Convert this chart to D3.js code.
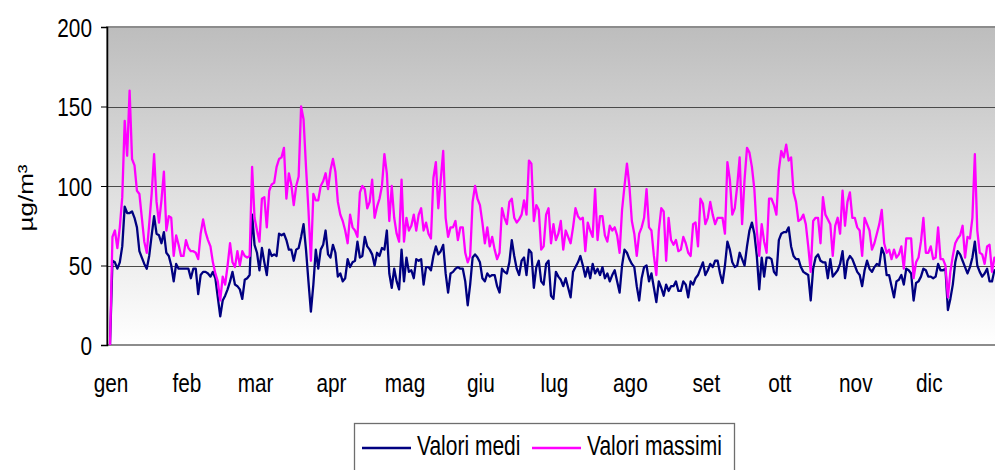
<!DOCTYPE html>
<html>
<head>
<meta charset="utf-8">
<script src="https://cdn.jsdelivr.net/npm/d3@7"></script>
<style>
  body { margin: 0; background: #fff; }
  text { font-family: "Liberation Sans", Arial, sans-serif; fill: #000; }
</style>
</head>
<body>
<script>
const width = 995;
const height = 470;

// mesi (etichette asse x) e giorno di inizio (indice del punto)
const months = ["gen", "feb", "mar", "apr", "mag", "giu", "lug", "ago", "set", "ott", "nov", "dic"];
const monthStart = [1, 32, 60, 91, 121, 152, 182, 213, 244, 274, 305, 335];

const yTicks = [0, 50, 100, 150, 200];

// Valori medi giornalieri (µg/m³)
const valoriMedi = [
  0, 53, 52, 48, 52, 62, 87, 83, 83, 84,
  80, 74, 59, 55, 51, 48, 56, 69, 81, 70,
  69, 64, 71, 58, 56, 50, 40, 51, 48, 48,
  48, 48, 48, 42, 48, 48, 32, 44, 46, 46,
  45, 43, 46, 42, 30, 18, 28, 31, 35, 40,
  46, 38, 37, 35, 29, 41, 42, 44, 82, 63,
  58, 47, 61, 52, 44, 60, 56, 57, 56, 70,
  69, 70, 66, 60, 60, 53, 60, 61, 68, 76,
  60, 40, 21, 38, 60, 48, 60, 63, 72, 57,
  55, 63, 58, 43, 45, 40, 42, 54, 49, 52,
  53, 65, 55, 56, 68, 62, 60, 57, 50, 58,
  56, 61, 60, 72, 45, 36, 48, 40, 35, 60,
  40, 55, 46, 47, 42, 54, 53, 54, 38, 49,
  49, 47, 56, 62, 57, 59, 63, 45, 33, 45,
  46, 48, 49, 48, 48, 40, 25, 38, 55, 57,
  55, 52, 42, 40, 45, 43, 44, 44, 37, 33,
  48, 46, 45, 52, 66, 56, 48, 44, 53, 55,
  44, 60, 58, 36, 49, 53, 40, 38, 51, 53,
  31, 29, 46, 43, 41, 37, 42, 36, 30, 46,
  49, 52, 56, 50, 43, 49, 42, 51, 45, 48,
  44, 49, 42, 45, 40, 44, 47, 40, 33, 50,
  60, 58, 54, 51, 49, 37, 28, 42, 49, 50,
  40, 45, 36, 27, 40, 36, 31, 38, 34, 37,
  37, 40, 34, 34, 40, 38, 30, 40, 38, 42,
  44, 48, 52, 44, 47, 51, 49, 53, 53, 45,
  39, 50, 65, 60, 52, 49, 50, 58, 54, 50,
  62, 72, 77, 70, 56, 35, 55, 43, 55, 55,
  54, 46, 44, 66, 70, 71, 71, 74, 62, 56,
  54, 54, 49, 46, 45, 44, 28, 48, 55, 57,
  53, 52, 52, 42, 54, 43, 45, 47, 51, 59,
  42, 53, 56, 54, 50, 46, 44, 37, 47, 53,
  48, 46, 49, 51, 50, 61, 57, 44, 44, 37,
  30, 40, 41, 44, 38, 48, 47, 45, 28, 39,
  40, 43, 48, 47, 43, 43, 42, 43, 51, 47,
  47, 48, 22, 29, 38, 52, 59, 57, 53, 49,
  45, 49, 55, 65, 50, 46, 43, 45, 48, 40,
  40, 47, 45
];

// Valori massimi giornalieri (µg/m³)
const valoriMassimi = [
  0, 68, 72, 61, 74, 93, 141, 119, 160, 117,
  113, 97, 95, 80, 65, 58, 76, 95, 120, 90,
  77, 91, 109, 72, 81, 80, 56, 69, 63, 56,
  56, 66, 61, 59, 59, 58, 54, 70, 79, 71,
  66, 62, 52, 45, 40, 28, 43, 38, 50, 64,
  52, 49, 59, 50, 59, 56, 55, 56, 112, 80,
  72, 65, 92, 93, 74, 97, 101, 102, 112, 117,
  118, 124, 92, 108, 101, 88, 100, 106, 150, 142,
  112, 85, 53, 95, 91, 91, 100, 103, 108, 98,
  110, 117, 109, 90, 82, 78, 72, 64, 82, 74,
  72, 68, 96, 100, 98, 86, 90, 104, 80, 87,
  92, 100, 120, 108, 78, 100, 80, 70, 65, 104,
  65, 80, 72, 75, 82, 72, 82, 86, 72, 77,
  70, 67, 105, 115, 86, 104, 122, 80, 68, 74,
  74, 78, 66, 74, 74, 58, 52, 56, 90, 100,
  92, 88, 77, 64, 74, 62, 68, 60, 54, 58,
  86, 80, 76, 90, 92, 80, 77, 79, 82, 91,
  82, 116, 114, 78, 88, 85, 60, 62, 82, 86,
  64, 76, 66, 70, 78, 60, 72, 68, 64, 74,
  86, 81, 79, 80, 59, 77, 72, 68, 98, 66,
  81, 81, 69, 65, 75, 72, 74, 69, 58, 85,
  100, 114, 100, 78, 70, 56, 70, 74, 80, 98,
  74, 72, 56, 44, 72, 86, 84, 53, 80, 66,
  63, 66, 59, 60, 68, 64, 58, 56, 76, 77,
  62, 92, 89, 76, 80, 90, 82, 76, 80, 80,
  80, 70, 115, 104, 82, 86, 100, 118, 76, 104,
  124, 121, 112, 98, 72, 56, 76, 65, 58, 92,
  92, 88, 82, 110, 122, 118, 126, 116, 118, 96,
  90, 78, 79, 82, 76, 62, 46, 78, 80, 80,
  64, 93, 82, 79, 76, 56, 75, 80, 70, 97,
  75, 90, 96, 80, 80, 74, 72, 56, 80, 76,
  72, 60, 64, 70, 76, 85, 64, 58, 60, 54,
  60, 55, 57, 62, 48, 67, 67, 67, 42, 52,
  55, 65, 80, 58, 58, 62, 54, 55, 74, 54,
  54, 50, 30, 46, 56, 64, 67, 69, 75, 55,
  68, 67, 80, 120, 72, 58, 57, 51, 62, 63,
  46, 55, 52
];

const plot = { left: 107, top: 27, right: 995, bottom: 345 };
const sx = 0.8; // testo un po' compresso in orizzontale come nell'originale

const svg = d3.select("body")
    .append("svg")
    .attr("width", width)
    .attr("height", height);

const x = d3.scaleLinear().domain([0, 365]).range([110, 110 + 2.45 * 365]);
const y = d3.scaleLinear().domain([0, 200]).range([plot.bottom, plot.top]);

// sfondo sfumato dell'area del grafico
const defs = svg.append("defs");
const grad = defs.append("linearGradient")
    .attr("id", "bg").attr("x1", 0).attr("y1", 0).attr("x2", 0).attr("y2", 1);
grad.append("stop").attr("offset", "0%").attr("stop-color", "#bdbdbd");
grad.append("stop").attr("offset", "100%").attr("stop-color", "#ffffff");

defs.append("clipPath").attr("id", "clip")
  .append("rect")
    .attr("x", plot.left).attr("y", plot.top - 5)
    .attr("width", plot.right - plot.left).attr("height", plot.bottom - plot.top + 5);

svg.append("rect")
    .attr("x", plot.left).attr("y", plot.top)
    .attr("width", plot.right - plot.left + 5).attr("height", plot.bottom - plot.top)
    .attr("fill", "url(#bg)")
    .attr("stroke", "#8c8c8c")
    .attr("stroke-width", 2);

// griglia orizzontale
svg.append("g")
  .selectAll("line")
  .data(yTicks.filter(d => d > 0 && d < 200))
  .join("line")
    .attr("x1", plot.left).attr("x2", plot.right)
    .attr("y1", d => Math.round(y(d)) + 0.5).attr("y2", d => Math.round(y(d)) + 0.5)
    .attr("stroke", "#4a4a4a")
    .attr("stroke-width", 1);

// asse y
const yAxis = svg.append("g")
    .attr("transform", `translate(${plot.left},0)`)
    .call(d3.axisLeft(y).tickValues(yTicks).tickSize(6).tickFormat(d3.format("d")));
yAxis.select(".domain").attr("stroke", "#000").attr("stroke-width", 1.5);
yAxis.selectAll(".tick line").attr("stroke", "#000");
yAxis.selectAll(".tick text").remove();
yAxis.selectAll(".tick")
  .append("text")
    .attr("transform", `translate(-15,9) scale(${sx},1)`)
    .attr("text-anchor", "end")
    .attr("font-size", 26)
    .text(d => d);

// titolo asse y
svg.append("text")
    .attr("transform", `translate(33,198) rotate(-90) scale(1,${sx})`)
    .attr("text-anchor", "middle")
    .attr("font-size", 26)
    .text("µg/m³");

// etichette mesi
svg.append("g")
  .selectAll("text")
  .data(months)
  .join("text")
    .attr("transform", (d, i) => `translate(${x(monthStart[i] - 0.6)},392) scale(${sx},1)`)
    .attr("text-anchor", "middle")
    .attr("font-size", 26)
    .text(d => d);

// linee delle serie
const line = d3.line()
    .x((d, i) => x(i))
    .y(d => y(d));

const lines = svg.append("g").attr("clip-path", "url(#clip)");
lines.append("path")
    .datum(valoriMedi)
    .attr("d", line)
    .attr("fill", "none")
    .attr("stroke", "#000080")
    .attr("stroke-width", 2.3)
    .attr("stroke-linejoin", "round");
lines.append("path")
    .datum(valoriMassimi)
    .attr("d", line)
    .attr("fill", "none")
    .attr("stroke", "#ff00ff")
    .attr("stroke-width", 2.3)
    .attr("stroke-linejoin", "round");

// legenda
const legendItems = [
  { name: "Valori medi", color: "#000080", x: 362 },
  { name: "Valori massimi", color: "#ff00ff", x: 532 }
];
const legend = svg.append("g");
legend.append("rect")
    .attr("x", 354.5).attr("y", 423.5)
    .attr("width", 380).attr("height", 60)
    .attr("fill", "#fff")
    .attr("stroke", "#6e6e6e")
    .attr("stroke-width", 1.3);
const li = legend.selectAll("g.item")
  .data(legendItems)
  .join("g")
    .attr("class", "item");
li.append("line")
    .attr("x1", d => d.x).attr("x2", d => d.x + 49)
    .attr("y1", 448).attr("y2", 448)
    .attr("stroke", d => d.color)
    .attr("stroke-width", 2.3);
li.append("text")
    .attr("transform", d => `translate(${d.x + 55},455) scale(0.75,1)`)
    .attr("font-size", 28)
    .text(d => d.name);
</script>
</body>
</html>
